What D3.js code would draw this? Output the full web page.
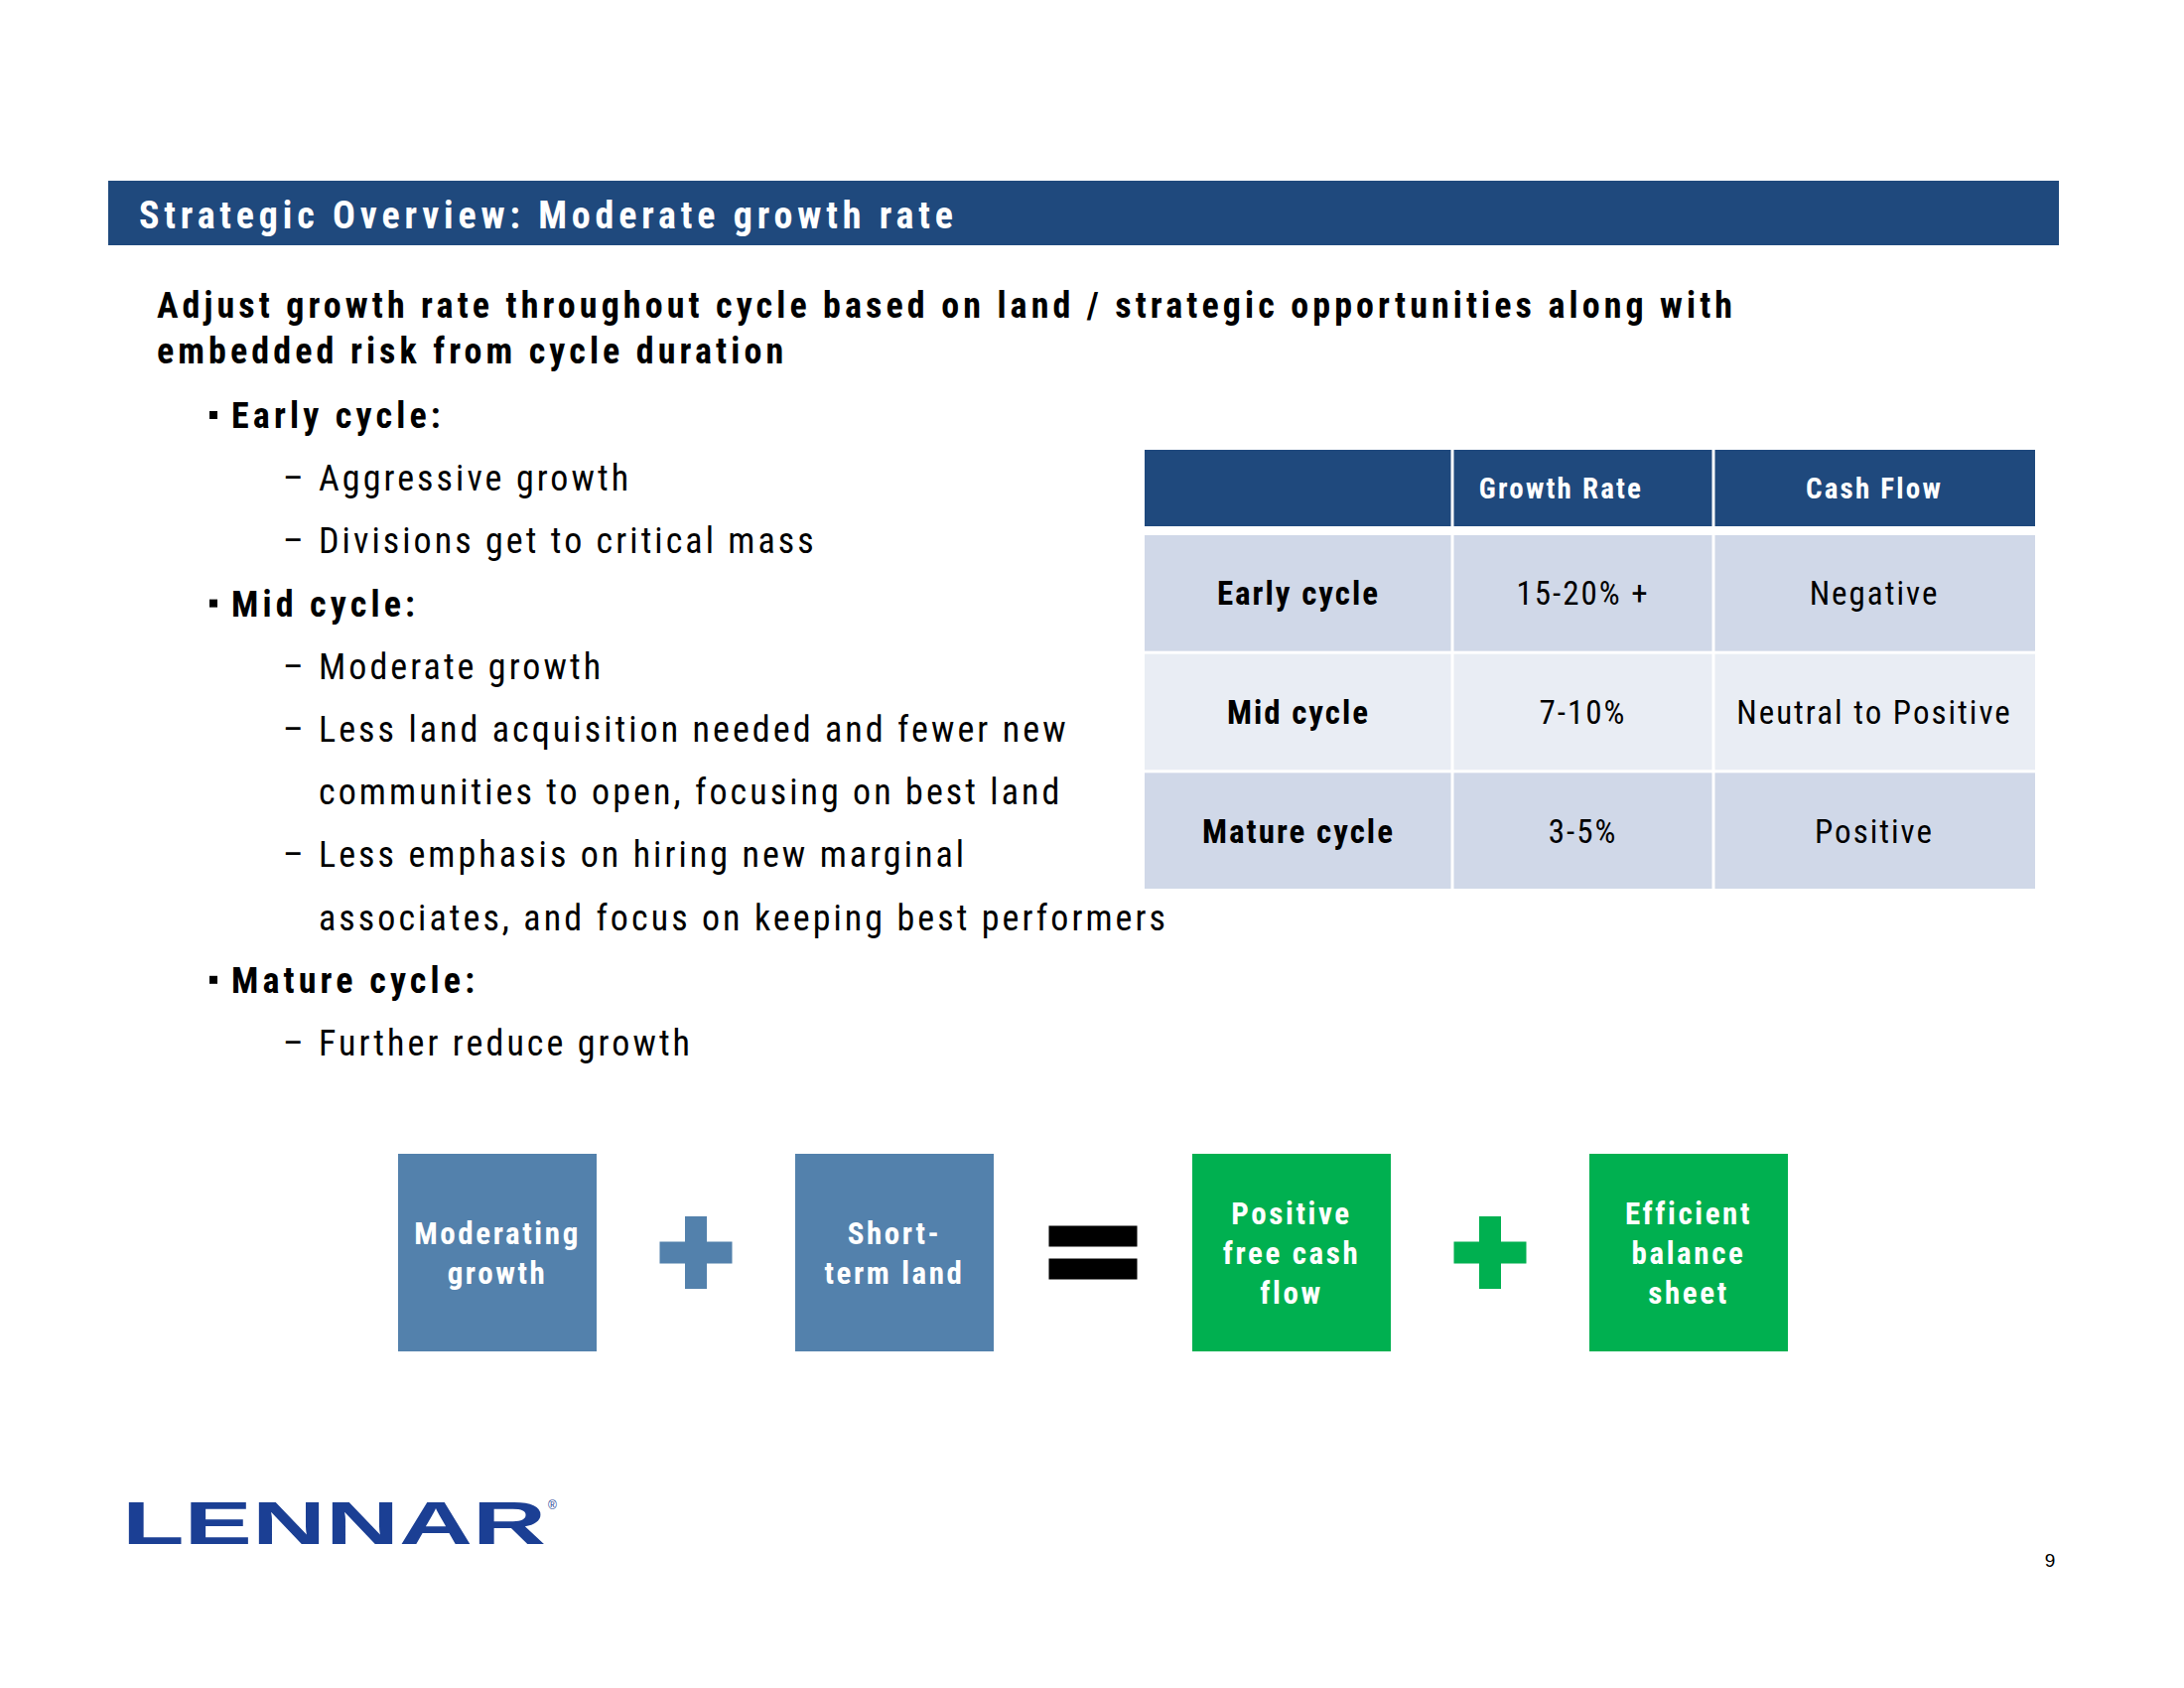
<!DOCTYPE html>
<html>
<head>
<meta charset="utf-8">
<script src="https://cdn.jsdelivr.net/npm/d3@7"></script>
<style>
  html, body { margin: 0; padding: 0; background: #fff; }
  svg { display: block; }
</style>
</head>
<body>
<svg id="chart" width="2200" height="1700"></svg>
<script>
// ---------- DATA ----------
const titleText = "Strategic Overview: Moderate growth rate";
const subtitleLines = [
  "Adjust growth rate throughout cycle based on land / strategic opportunities along with",
  "embedded risk from cycle duration"
];
const bulletHeads = ["Early cycle:", "Mid cycle:", "Mature cycle:"];
const bulletItems = [
  { head: 0, text: "Aggressive growth", cont: false },
  { head: 0, text: "Divisions get to critical mass", cont: false },
  { head: 1, text: "Moderate growth", cont: false },
  { head: 1, text: "Less land acquisition needed and fewer new", cont: false },
  { head: 1, text: "communities to open, focusing on best land", cont: true },
  { head: 1, text: "Less emphasis on hiring new marginal", cont: false },
  { head: 1, text: "associates, and focus on keeping best performers", cont: true },
  { head: 2, text: "Further reduce growth", cont: false }
];
const tableColumns = ["", "Growth Rate", "Cash Flow"];
const tableStages = ["Early cycle", "Mid cycle", "Mature cycle"];
const growthRates = ["15-20% +", "7-10%", "3-5%"];
const cashFlows = ["Negative", "Neutral to Positive", "Positive"];
const equationBoxes = [
  { lines: ["Moderating", "growth"], kind: "input" },
  { lines: ["Short-", "term land"], kind: "input" },
  { lines: ["Positive", "free cash", "flow"], kind: "output" },
  { lines: ["Efficient", "balance", "sheet"], kind: "output" }
];
const operators = ["plus", "equals", "plus"];
const logoText = "LENNAR";
const pageNumber = "9";

// ---------- STYLE / LAYOUT ----------
const FONT = "'Liberation Sans Narrow', 'Arial Narrow', 'Roboto Condensed', 'Liberation Sans', Arial, sans-serif";
const C = {
  navy: "#1F497D",
  rowDark: "#D0D8E8",
  rowLight: "#E9EDF4",
  blueBox: "#5381AC",
  green: "#00B050",
  logo: "#1B3F94",
  text: "#000000"
};

const svg = d3.select("#chart");

// letter-spacing calibration helper: make a text node fit a target width
function fitSpacing(sel, target) {
  const node = sel.node();
  sel.attr("letter-spacing", 0);
  const w = node.getComputedTextLength();
  const n = node.textContent.length;
  const ls = (target - w) / Math.max(1, n - 1);
  return ls;
}

// ---------- Title bar ----------
svg.append("rect").attr("x", 109).attr("y", 182).attr("width", 1965).attr("height", 65).attr("fill", C.navy);
const title = svg.append("text").attr("x", 140).attr("y", 230)
  .attr("font-family", FONT).attr("font-weight", "bold").attr("font-size", 38)
  .attr("fill", "#fff").text(titleText);
title.attr("letter-spacing", fitSpacing(title, 820));

// ---------- Subtitle ----------
const subY = d3.scalePoint().domain(d3.range(subtitleLines.length)).range([320, 366]);
const subs = svg.append("g").selectAll("text").data(subtitleLines).join("text")
  .attr("x", 158).attr("y", (d, i) => subY(i))
  .attr("font-family", FONT).attr("font-weight", "bold").attr("font-size", 36)
  .attr("fill", C.text).text(d => d);
const subLS = fitSpacing(subs.filter((d, i) => i === 0), 1587);
subs.attr("letter-spacing", subLS);

// ---------- Bullets ----------
// vertical rhythm: each line 63.2px
const lineY = d3.scaleLinear().domain([0, 10]).range([431, 1063]);
let lineIdx = 0;
const lines = [];
bulletHeads.forEach((h, hi) => {
  lines.push({ type: "head", text: h, idx: lineIdx++ });
  bulletItems.filter(b => b.head === hi).forEach(b => {
    lines.push({ type: b.cont ? "cont" : "item", text: b.text, idx: lineIdx++ });
  });
});
const gB = svg.append("g");
const heads = gB.selectAll("text.head").data(lines.filter(l => l.type === "head")).join("text")
  .attr("class", "head").attr("x", 233).attr("y", d => lineY(d.idx))
  .attr("font-family", FONT).attr("font-weight", "bold").attr("font-size", 36)
  .attr("fill", C.text).text(d => d.text);
const headLS = fitSpacing(heads.filter(d => d.text === "Mature cycle:"), 245);
heads.attr("letter-spacing", headLS);
gB.selectAll("rect.sq").data(lines.filter(l => l.type === "head")).join("rect")
  .attr("class", "sq").attr("x", 211).attr("y", d => lineY(d.idx) - 17)
  .attr("width", 8).attr("height", 8).attr("fill", C.text);

const items = gB.selectAll("text.item").data(lines.filter(l => l.type !== "head")).join("text")
  .attr("class", "item").attr("x", 321).attr("y", d => lineY(d.idx))
  .attr("font-family", FONT).attr("font-size", 36)
  .attr("fill", C.text).text(d => d.text);
const itemLS = fitSpacing(items.filter(d => d.text.startsWith("associates")), 853);
items.attr("letter-spacing", itemLS);
gB.selectAll("text.dash").data(lines.filter(l => l.type === "item")).join("text")
  .attr("class", "dash").attr("x", 285).attr("y", d => lineY(d.idx))
  .attr("font-family", FONT).attr("font-size", 36).attr("fill", C.text).text("–");

// ---------- Table ----------
const colEdges = [1153, 1463, 1726, 2050];
const gap = 3;
const gT = svg.append("g");
const rowY = d3.scaleBand().domain(tableStages).range([539, 895]).paddingInner(0.025);
// header
tableColumns.forEach((c, ci) => {
  gT.append("rect").attr("x", colEdges[ci] + (ci ? gap / 2 : 0)).attr("y", 453)
    .attr("width", colEdges[ci + 1] - colEdges[ci] - (ci ? gap / 2 : 0) - (ci < 2 ? gap / 2 : 0))
    .attr("height", 77).attr("fill", C.navy);
});
gT.selectAll("text.hdr").data(tableColumns.slice(1)).join("text")
  .attr("class", "hdr")
  .attr("x", (d, i) => (colEdges[i + 1] + colEdges[i + 2]) / 2 + (i === 0 ? -22 : 0))
  .attr("y", 502).attr("text-anchor", "middle")
  .attr("font-family", FONT).attr("font-weight", "bold").attr("font-size", 29)
  .attr("letter-spacing", 2.2).attr("fill", "#fff").text(d => d);

const tableData = tableStages.map((s, i) => [s, growthRates[i], cashFlows[i]]);
tableData.forEach((row, ri) => {
  row.forEach((cell, ci) => {
    const x0 = colEdges[ci] + (ci ? gap / 2 : 0);
    const x1 = colEdges[ci + 1] - (ci < 2 ? gap / 2 : 0);
    gT.append("rect").attr("x", x0).attr("y", rowY(tableStages[ri]))
      .attr("width", x1 - x0).attr("height", rowY.bandwidth())
      .attr("fill", ri === 1 ? C.rowLight : C.rowDark);
    gT.append("text").attr("x", (colEdges[ci] + colEdges[ci + 1]) / 2)
      .attr("y", rowY(tableStages[ri]) + rowY.bandwidth() / 2 + 12)
      .attr("text-anchor", "middle").attr("font-family", FONT)
      .attr("font-weight", ci === 0 ? "bold" : "normal").attr("font-size", 33)
      .attr("letter-spacing", 2).attr("fill", C.text).text(cell);
  });
});

// ---------- Equation boxes ----------
const boxX = d3.scalePoint().domain(d3.range(equationBoxes.length)).range([401, 1601]);
const boxW = 200, boxTop = 1162, boxH = 199, boxMid = boxTop + boxH / 2;
const gE = svg.append("g");
equationBoxes.forEach((b, i) => {
  const x = boxX(i);
  gE.append("rect").attr("x", x).attr("y", boxTop).attr("width", boxW).attr("height", boxH)
    .attr("fill", b.kind === "input" ? C.blueBox : C.green);
  const lh = 40;
  const first = boxMid - (b.lines.length - 1) * lh / 2 + 11;
  b.lines.forEach((l, li) => {
    gE.append("text").attr("x", x + boxW / 2).attr("y", first + li * lh)
      .attr("text-anchor", "middle").attr("font-family", FONT).attr("font-weight", "bold")
      .attr("font-size", 31).attr("letter-spacing", 2.6).attr("fill", "#fff").text(l);
  });
});
operators.forEach((op, i) => {
  const cx = (boxX(i) + boxW + boxX(i + 1)) / 2;
  const cy = boxMid;
  if (op === "plus") {
    const col = equationBoxes[i + 1].kind === "input" ? C.blueBox : C.green;
    const arm = 73, th = 22;
    gE.append("rect").attr("x", cx - arm / 2).attr("y", cy - th / 2).attr("width", arm).attr("height", th).attr("fill", col);
    gE.append("rect").attr("x", cx - th / 2).attr("y", cy - arm / 2).attr("width", th).attr("height", arm).attr("fill", col);
  } else {
    const w = 89, th = 21;
    gE.append("rect").attr("x", cx - w / 2).attr("y", cy - 27).attr("width", w).attr("height", th).attr("fill", "#000");
    gE.append("rect").attr("x", cx - w / 2).attr("y", cy + 6).attr("width", w).attr("height", th).attr("fill", "#000");
  }
});

// ---------- Logo & page number ----------
svg.append("text").attr("x", 123).attr("y", 1555)
  .attr("font-family", "'Liberation Sans', Arial, sans-serif").attr("font-weight", "bold")
  .attr("font-size", 62).attr("textLength", 427).attr("lengthAdjust", "spacingAndGlyphs")
  .attr("fill", C.logo).text(logoText);
svg.append("text").attr("x", 552).attr("y", 1520).attr("font-family", "'Liberation Sans', Arial, sans-serif")
  .attr("font-size", 12).attr("fill", C.logo).text("®");
svg.append("text").attr("x", 2065).attr("y", 1578).attr("text-anchor", "middle")
  .attr("font-family", "'Liberation Sans', Arial, sans-serif").attr("font-size", 19)
  .attr("fill", C.text).text(pageNumber);
</script>
</body>
</html>
